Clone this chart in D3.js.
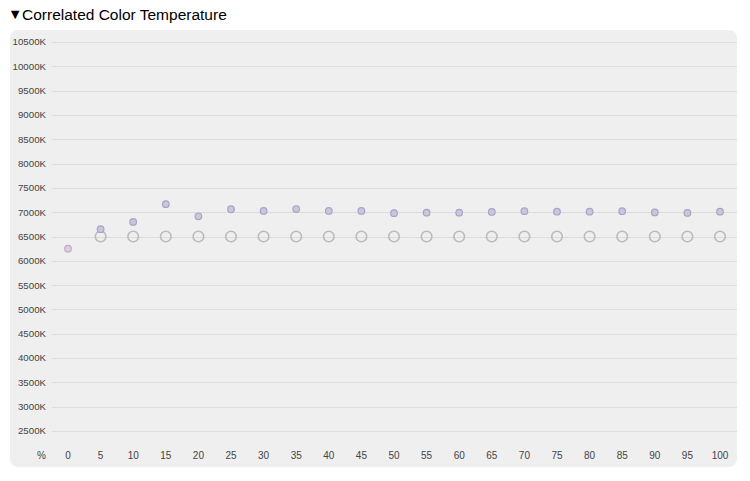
<!DOCTYPE html>
<html><head><meta charset="utf-8">
<script src="https://cdn.jsdelivr.net/npm/d3@7"></script>
<style>
body{margin:0;background:#fff;font-family:"Liberation Sans",Arial,Helvetica,sans-serif;}
</style></head>
<body><svg id="c" width="750" height="481"></svg>
<script>
const percents = [0,5,10,15,20,25,30,35,40,45,50,55,60,65,70,75,80,85,90,95,100];
const measuredCCT = [6250,6650,6800,7165,6915,7060,7025,7065,7025,7025,6980,6990,6990,7005,7020,7010,7010,7020,6995,6985,7010];
const targetPercents = [5,10,15,20,25,30,35,40,45,50,55,60,65,70,75,80,85,90,95,100];
const targetCCT = targetPercents.map(() => 6500);
const yTicks = [2500,3000,3500,4000,4500,5000,5500,6000,6500,7000,7500,8000,8500,9000,9500,10000,10500];

const svg = d3.select("#c");
svg.append("text").attr("x",8).attr("y",19).attr("font-size",14.5).attr("fill","#000").text("▼");
svg.append("text").attr("x",22).attr("y",20).attr("font-size",15.5).attr("fill","#000")
  .text("Correlated Color Temperature");
svg.append("rect").attr("x",10).attr("y",30).attr("width",727).attr("height",437)
  .attr("rx",8).attr("fill","#efefef");

const y = d3.scaleLinear().domain([2500,10500]).range([431,42]);
const x = d3.scaleLinear().domain([0,100]).range([68,720]);

const g = svg.append("g");
g.selectAll("line.grid").data(yTicks).join("line").attr("class","grid")
  .attr("x1",52).attr("x2",737).attr("y1",d=>Math.round(y(d))+0.5).attr("y2",d=>Math.round(y(d))+0.5)
  .attr("stroke","#dcdcdc").attr("stroke-width",1);
g.selectAll("text.yl").data(yTicks).join("text").attr("class","yl")
  .attr("x",46).attr("y",d=>y(d)).attr("dy","0.35em").attr("text-anchor","end")
  .attr("font-size",9.7).attr("fill","#444").text(d=>d+"K");
g.selectAll("text.xl").data(percents).join("text").attr("class","xl")
  .attr("x",d=>x(d)).attr("y",455).attr("dy","0.35em").attr("text-anchor","middle")
  .attr("font-size",10).attr("fill","#444").text(d=>d);
g.append("text").attr("x",46).attr("y",455).attr("dy","0.35em").attr("text-anchor","end")
  .attr("font-size",10).attr("fill","#444").text("%");

g.selectAll("circle.t").data(targetPercents).join("circle").attr("class","t")
  .attr("cx",d=>x(d)).attr("cy",(d,i)=>y(targetCCT[i])).attr("r",5.3)
  .attr("fill","none").attr("stroke","#bbbbbb").attr("stroke-width",1.6);
g.selectAll("circle.m").data(percents).join("circle").attr("class","m")
  .attr("cx",d=>x(d)).attr("cy",(d,i)=>y(measuredCCT[i])).attr("r",3.3)
  .attr("fill",(d,i)=>i===0?"#e2cbe2":"#cbc6dd")
  .attr("stroke",(d,i)=>i===0?"#c4a9c8":"#a9a4c2").attr("stroke-width",1.2);
</script></body></html>
